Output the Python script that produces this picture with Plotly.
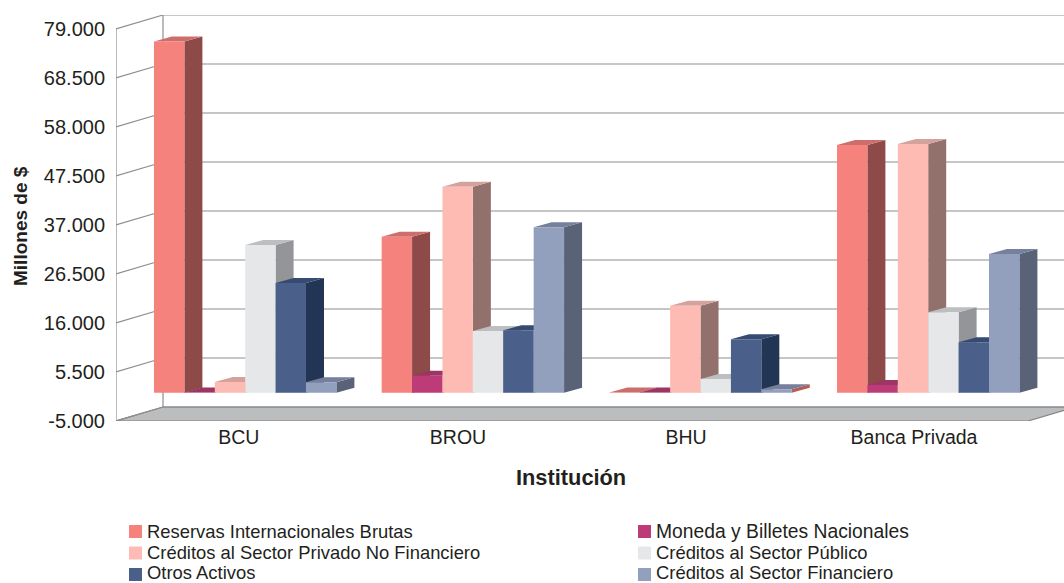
import plotly.graph_objects as go

# ---------- data (millones de $) ----------
categories = ["BCU", "BROU", "BHU", "Banca Privada"]
reservas = [75230, 33430, 40, 53080]
moneda = [40, 3640, 40, 1650]
privado = [2300, 44140, 18640, 53300]
publico = [31650, 13220, 2940, 17230]
otros = [23500, 13370, 11440, 10800]
financiero = [2230, 35440, 730, 29720]
series_names = ["Reservas Internacionales Brutas", "Moneda y Billetes Nacionales",
                "Créditos al Sector Privado No Financiero", "Créditos al Sector Público",
                "Otros Activos", "Créditos al Sector Financiero"]
series_values = [reservas, moneda, privado, publico, otros, financiero]
y_ticks = [-5000, 5500, 16000, 26500, 37000, 47500, 58000, 68500, 79000]
y_ticktext = ["-5.000", "5.500", "16.000", "26.500", "37.000", "47.500", "58.000", "68.500", "79.000"]

# ---------- styling ----------
front_colors = ["#f5827d", "#bd3c78", "#fdbbb4", "#e6e7e9", "#4a5f8a", "#92a0be"]
side_colors = ["#8e4a49", "#9c3464", "#92706c", "#939598", "#233555", "#596277"]
top_colors = ["#cc6e6c", "#9c3464", "#d3a29c", "#bcbec0", "#364a72", "#767f9c"]
legend_sizes = [18.4, 19.3, 18.4, 18.4, 18.4, 18.4]
TEXT = "#231f20"
GRID = "#8e8e8e"
FONT = "Liberation Sans"

W, H = 1064, 583
L, T, B = 116, 15, 162
CAT_PX = 227.67
Y_MIN, Y_TOP = -5000, 82000
X_MIN = -0.5
X_MAX = X_MIN + (W - L) / CAT_PX
FLOOR_RIGHT = 3.506

WALL_DX = 47 / CAT_PX          # full depth of the box, in category units
WALL_DY = 3000                 # full depth of the box, in value units
BAR_W = 30.4 / CAT_PX
GROUP_START = -0.4078
BAR_OFF_X, BAR_OFF_Y = 17 / CAT_PX, 1071   # from the front plane to the bar front
BAR_DX, BAR_DY = 18 / CAT_PX, 1071         # bar depth


def polys(list_of_polys):
    xs, ys = [], []
    for poly in list_of_polys:
        for x, y in poly:
            xs.append(x)
            ys.append(y)
        xs.append(poly[0][0]); ys.append(poly[0][1])
        xs.append(None); ys.append(None)
    return xs, ys


def add_fill(fig, list_of_polys, color, name=None):
    xs, ys = polys(list_of_polys)
    fig.add_trace(go.Scatter(x=xs, y=ys, mode="none", fill="toself", fillcolor=color,
                             hoverinfo="skip", showlegend=False, name=name, cliponaxis=False))


fig = go.Figure()

# walls and gridlines
gx, gy = [], []
for t in y_ticks:
    gx += [X_MIN, X_MIN + WALL_DX, X_MAX, None]
    gy += [t, t + WALL_DY, t + WALL_DY, None]
gx += [X_MIN, X_MIN, None, X_MIN + WALL_DX, X_MIN + WALL_DX, None]
gy += [y_ticks[0], y_ticks[-1], None, y_ticks[0] + WALL_DY, y_ticks[-1] + WALL_DY, None]

# floor
floor = [(X_MIN, Y_MIN), (FLOOR_RIGHT, Y_MIN), (FLOOR_RIGHT + WALL_DX, Y_MIN + WALL_DY), (X_MIN + WALL_DX, Y_MIN + WALL_DY)]
fx, fy = polys([floor])
fig.add_trace(go.Scatter(x=fx, y=fy, mode="lines", fill="toself", fillcolor="#bcbdbf",
                         line=dict(color="#808285", width=1.2), hoverinfo="skip",
                         showlegend=False, cliponaxis=False))
fig.add_trace(go.Scatter(x=gx, y=gy, mode="lines", line=dict(color=GRID, width=1.2),
                         hoverinfo="skip", showlegend=False, cliponaxis=False))

# bars: painter's order, one series after another
for s, (name, values) in enumerate(zip(series_names, series_values)):
    sides, tops, fronts = [], [], []
    odd_sides = []
    for c, v in enumerate(values):
        x0 = c + GROUP_START + s * BAR_W + BAR_OFF_X
        x1 = x0 + BAR_W
        y0 = BAR_OFF_Y
        y1 = v + BAR_OFF_Y
        side = [(x1, y0), (x1 + BAR_DX, y0 + BAR_DY), (x1 + BAR_DX, y1 + BAR_DY), (x1, y1)]
        if categories[c] == "BHU" and s == 5:
            odd_sides.append(side)
        else:
            sides.append(side)
        tops.append([(x0, y1), (x1, y1), (x1 + BAR_DX, y1 + BAR_DY), (x0 + BAR_DX, y1 + BAR_DY)])
        fronts.append([(x0, y0), (x1, y0), (x1, y1), (x0, y1)])
    add_fill(fig, sides, side_colors[s])
    if odd_sides:
        add_fill(fig, odd_sides, "#b85c55")
    add_fill(fig, tops, top_colors[s])
    add_fill(fig, fronts, front_colors[s], name)

# legend, two columns, row by row
legend_cols = [129, 638]
legend_rows = [531.5, 553, 574.5]
text_rows = [531.5, 552.5, 572.5]
SW = 13
shapes, annotations = [], []
for i, name in enumerate(series_names):
    px = legend_cols[i % 2]
    py = legend_rows[i // 2]
    shapes.append(dict(type="rect", xref="paper", yref="paper", line=dict(width=0),
                       fillcolor=front_colors[i],
                       x0=(px - L) / (W - L), x1=(px + SW - L) / (W - L),
                       y0=(H - B - (py + SW / 2)) / (H - B - T),
                       y1=(H - B - (py - SW / 2)) / (H - B - T)))
    annotations.append(dict(text=name, xref="paper", yref="paper", showarrow=False,
                            xanchor="left", yanchor="middle", align="left", borderpad=0,
                            x=(px + SW + 3.5 - L) / (W - L),
                            y=(H - B - text_rows[i // 2]) / (H - B - T),
                            font=dict(family=FONT, size=legend_sizes[i], color=TEXT)))

# axis titles
annotations.append(dict(text="<b>Institución</b>", xref="paper", yref="paper", showarrow=False,
                        x=(571 - L) / (W - L), y=(H - B - 478) / (H - B - T),
                        xanchor="center", yanchor="middle",
                        font=dict(family=FONT, size=21.8, color=TEXT)))
annotations.append(dict(text="<b>Millones de $</b>", xref="paper", yref="paper", showarrow=False,
                        x=(20 - L) / (W - L), y=(H - B - 226) / (H - B - T), textangle=-90,
                        xanchor="center", yanchor="middle",
                        font=dict(family=FONT, size=19, color=TEXT)))

label_px = [238.8, 458, 686, 914]
fig.update_layout(
    width=W, height=H, margin=dict(l=L, r=0, t=T, b=B, autoexpand=False),
    plot_bgcolor="white", paper_bgcolor="white", showlegend=False,
    shapes=shapes, annotations=annotations,
    xaxis=dict(range=[X_MIN, X_MAX], showgrid=False, zeroline=False, showline=False,
               tickmode="array", tickvals=[(p - L) / CAT_PX + X_MIN for p in label_px],
               ticktext=categories, ticks="", ticklabelstandoff=2,
               tickfont=dict(family=FONT, size=19.5, color=TEXT), automargin=False),
    yaxis=dict(range=[Y_MIN, Y_TOP], showgrid=False, zeroline=False, showline=False,
               tickmode="array", tickvals=y_ticks, ticktext=y_ticktext,
               ticks="outside", ticklen=6, tickcolor="rgba(0,0,0,0)",
               tickfont=dict(family=FONT, size=20, color=TEXT), automargin=False),
)

fig.write_html("out.html", post_script="document.body.style.margin='0';",
               config=dict(displayModeBar=False))
